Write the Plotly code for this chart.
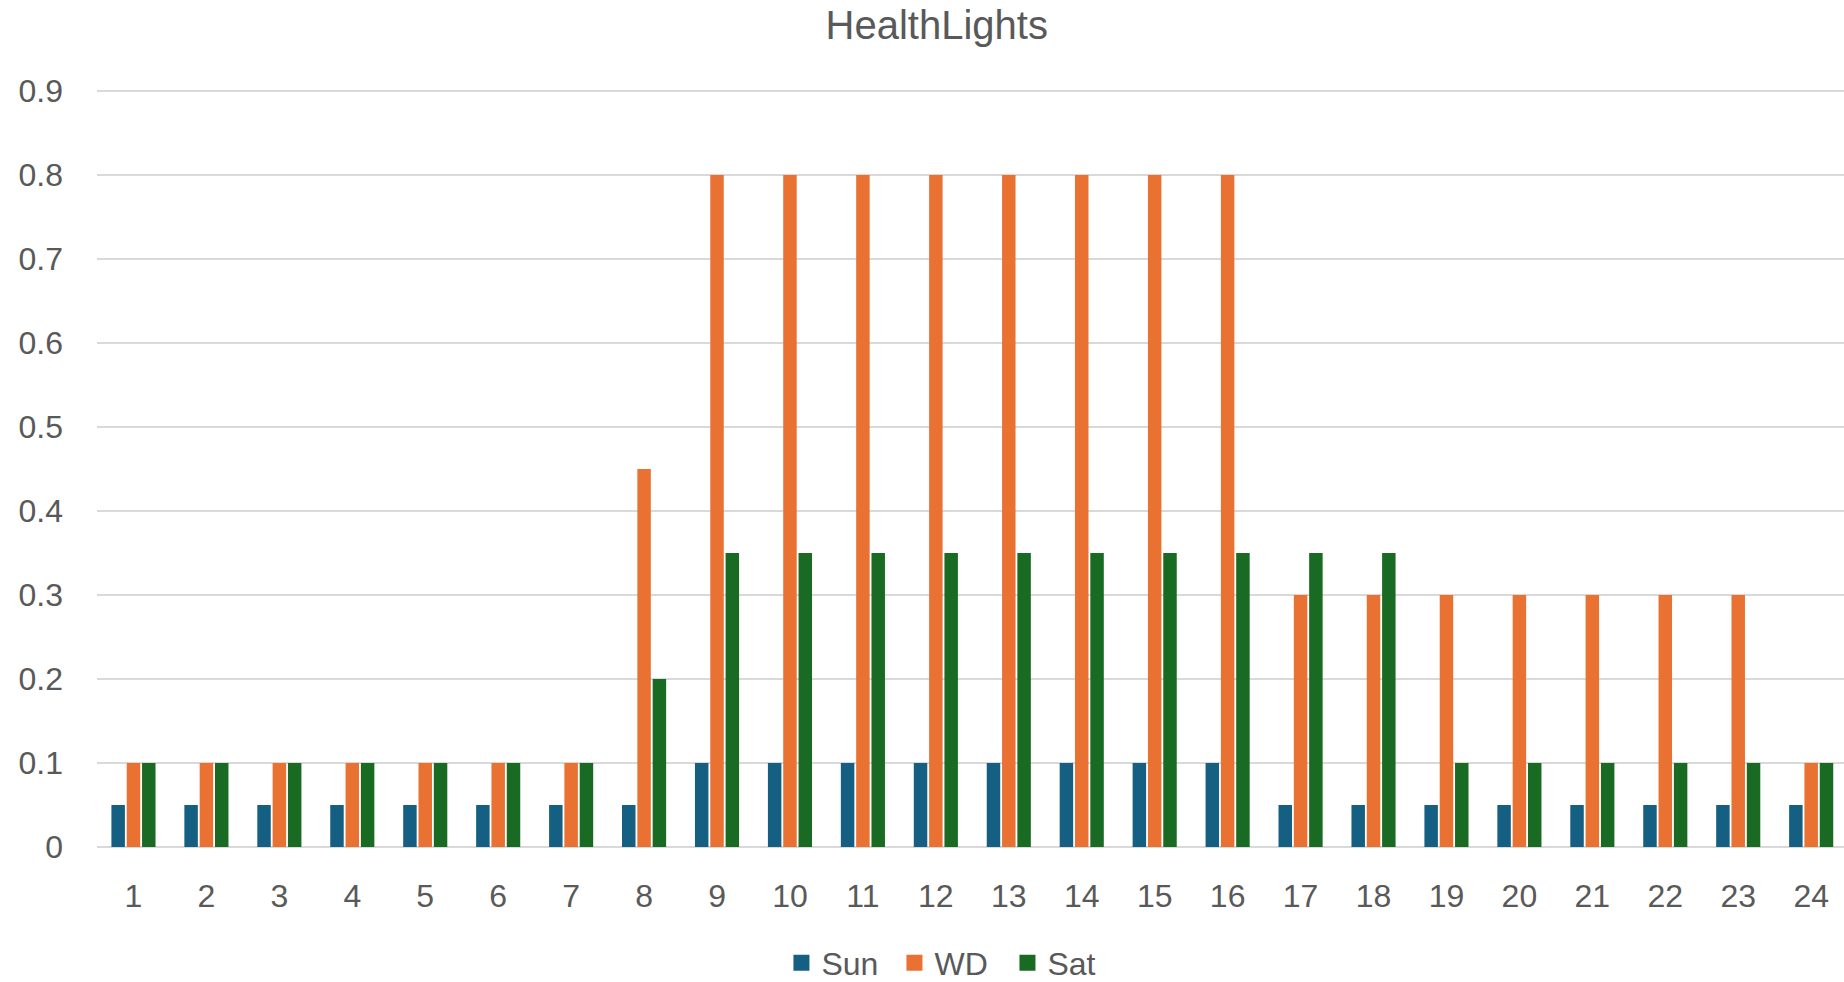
import plotly.graph_objects as go

hours = list(range(1, 25))
hour_labels = [str(h) for h in hours]
sun = [0.05] * 8 + [0.1] * 8 + [0.05] * 8
wd = [0.1] * 7 + [0.45] + [0.8] * 8 + [0.3] * 7 + [0.1]
sat = [0.1] * 7 + [0.2] + [0.35] * 10 + [0.1] * 6
y_ticks = [0, 0.1, 0.2, 0.3, 0.4, 0.5, 0.6, 0.7, 0.8, 0.9]
y_tick_labels = ["0", "0.1", "0.2", "0.3", "0.4", "0.5", "0.6", "0.7", "0.8", "0.9"]

series = [("Sun", sun, "#156082"), ("WD", wd, "#E97132"), ("Sat", sat, "#196B24")]

fig = go.Figure()
for name, vals, color in series:
    fig.add_trace(go.Bar(x=hours, y=vals, name=name, showlegend=False,
                         marker=dict(color=color, line=dict(width=0))))
# legend entries with larger square keys
for name, vals, color in series:
    fig.add_trace(go.Scatter(x=[None], y=[None], mode="markers", name=name,
                             marker=dict(symbol="square", size=20, color=color)))

txt = "#595959"
fig.update_layout(
    width=1844, height=982,
    paper_bgcolor="white", plot_bgcolor="white",
    margin=dict(l=97, r=0, t=89, b=135),
    barmode="group", bargap=0.37, bargroupgap=0.12,
    font=dict(family="Liberation Sans, Arial, sans-serif", size=32, color=txt),
    title=dict(text="HealthLights", x=0.508, xanchor="center", xref="container",
               y=1 - 25 / 982, yanchor="middle", yref="container",
               font=dict(size=40, color=txt)),
    legend=dict(orientation="h", xref="container", yref="container",
                x=0.5157, xanchor="center", y=1 - 963 / 982, yanchor="middle",
                font=dict(size=32, color=txt), itemwidth=30, traceorder="normal",
                itemsizing="trace", entrywidth=68, entrywidthmode="pixels"),
    xaxis=dict(range=[0.5, 24.45], tickmode="array", tickvals=hours, ticktext=hour_labels,
               showgrid=False, zeroline=False, showline=False, ticks="", ticklabelstandoff=27,
               fixedrange=True),
    yaxis=dict(range=[0, 0.9025], tickmode="array", tickvals=y_ticks, ticktext=y_tick_labels,
               showgrid=True, gridcolor="#D9D9D9", gridwidth=1.5,
               zeroline=True, zerolinecolor="#D9D9D9", zerolinewidth=1.5,
               showline=False, ticks="", ticklabelstandoff=33, fixedrange=True),
)

fig.write_html("out.html", config={"displayModeBar": False},
               post_script="document.body.style.margin='0';document.body.style.overflow='hidden';")
